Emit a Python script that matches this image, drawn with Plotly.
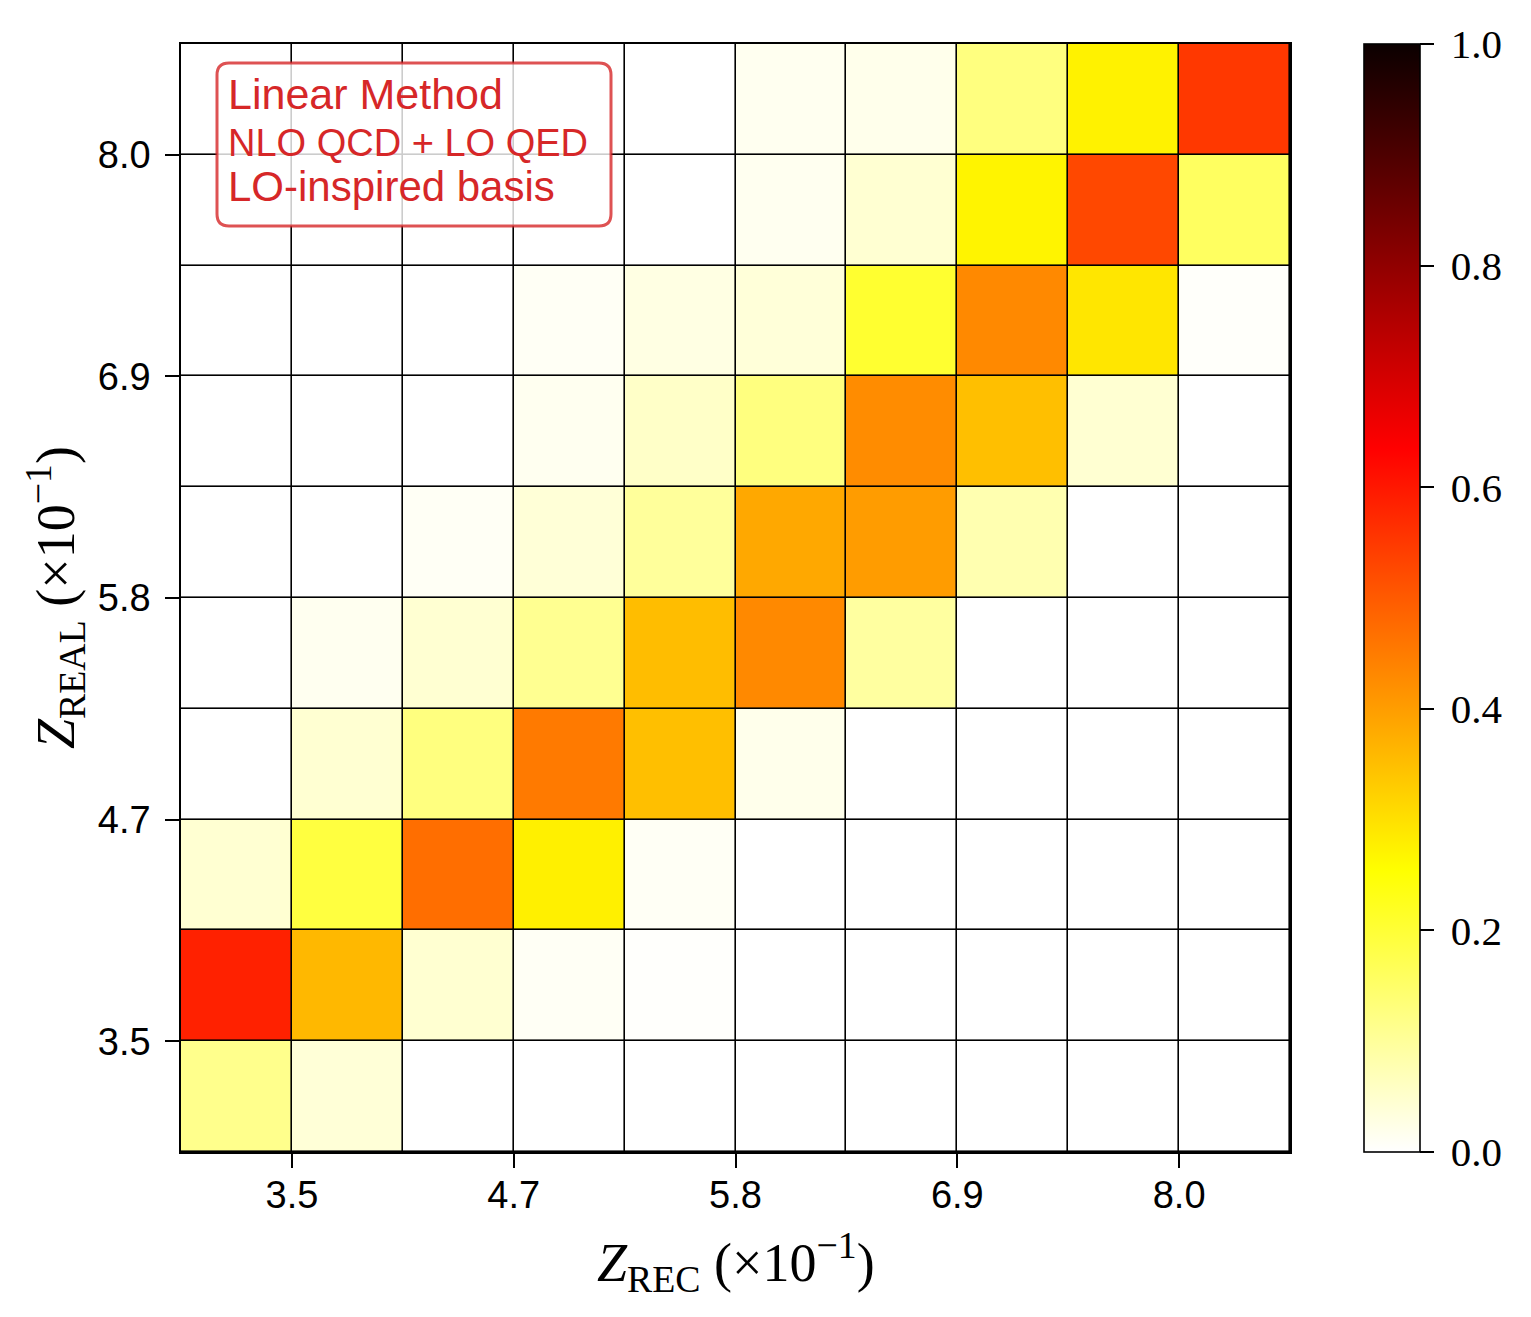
import plotly.graph_objects as go

# bin index along each axis (10 bins), rows listed bottom -> top
bins = list(range(10))
tick_pos = [0.5, 2.5, 4.5, 6.5, 8.5]
tick_text = ["3.5", "4.7", "5.8", "6.9", "8.0"]

row0 = [0.115, 0.040, 0.000, 0.000, 0.000, 0.000, 0.000, 0.000, 0.000, 0.000]
row1 = [0.585, 0.360, 0.046, 0.010, 0.003, 0.000, 0.000, 0.000, 0.000, 0.000]
row2 = [0.045, 0.190, 0.471, 0.277, 0.010, 0.000, 0.000, 0.000, 0.000, 0.000]
row3 = [0.000, 0.045, 0.127, 0.452, 0.349, 0.020, 0.000, 0.000, 0.000, 0.000]
row4 = [0.000, 0.015, 0.045, 0.110, 0.352, 0.430, 0.095, 0.000, 0.000, 0.000]
row5 = [0.000, 0.000, 0.010, 0.040, 0.100, 0.384, 0.402, 0.079, 0.000, 0.000]
row6 = [0.000, 0.000, 0.000, 0.015, 0.055, 0.127, 0.426, 0.349, 0.045, 0.000]
row7 = [0.000, 0.000, 0.000, 0.010, 0.028, 0.038, 0.206, 0.430, 0.292, 0.005]
row8 = [0.000, 0.000, 0.000, 0.000, 0.000, 0.015, 0.045, 0.270, 0.528, 0.158]
row9 = [0.000, 0.000, 0.000, 0.000, 0.000, 0.015, 0.020, 0.127, 0.273, 0.551]
z = [row0, row1, row2, row3, row4, row5, row6, row7, row8, row9]

cbar_ticks = [0.0, 0.2, 0.4, 0.6, 0.8, 1.0]
legend_lines = ["Linear Method", "NLO QCD + LO QED", "LO-inspired basis"]

# matplotlib "hot_r"
hot_r = [
    [0.0, "rgb(255,255,255)"],
    [0.253968, "rgb(255,255,0)"],
    [0.634921, "rgb(255,0,0)"],
    [1.0, "rgb(11,0,0)"],
]

# page body has an 8px margin, so lay out in page pixels minus that
OFF = 8
W, H = 1531 - OFF, 1317 - OFF
L, T = 181 - OFF, 44 - OFF
pw, ph = 1109, 1108
R, B = W - L - pw, H - T - ph

def px(x):
    return (x - OFF - L) / pw

def py(y):
    return (T + ph - (y - OFF)) / ph

red = "#d62728"
sans = "Liberation Sans"
serif = "Liberation Serif"

fig = go.Figure(go.Heatmap(
    x=bins, y=bins, z=z,
    colorscale=hot_r, zmin=0, zmax=1,
    xgap=1.6, ygap=1.6,
    colorbar=dict(
        x=px(1364), xanchor="left", xpad=0, ypad=0,
        y=0.5, yanchor="middle", len=1, lenmode="fraction",
        thickness=56, thicknessmode="pixels",
        outlinecolor="black", outlinewidth=1.6,
        ticks="outside", ticklen=14, tickwidth=1.6, tickcolor="black",
        tickvals=cbar_ticks, ticktext=[f"\u2009{v:.1f}" for v in cbar_ticks],
        tickfont=dict(family=serif, size=41, color="black"),
    ),
))

# rounded legend-like box
x0, x1, y0, y1, r = px(217), px(611), py(226), py(63), 12
rx, ry = r / pw, r / ph
path = (f"M {x0+rx},{y0} L {x1-rx},{y0} Q {x1},{y0} {x1},{y0+ry} "
        f"L {x1},{y1-ry} Q {x1},{y1} {x1-rx},{y1} L {x0+rx},{y1} "
        f"Q {x0},{y1} {x0},{y1-ry} L {x0},{y0+ry} Q {x0},{y0} {x0+rx},{y0} Z")
fig.add_shape(type="path", path=path, xref="paper", yref="paper",
              fillcolor="rgba(255,255,255,0.8)",
              line=dict(color="rgba(214,39,40,0.8)", width=3), layer="above")

for txt, yy, sz in zip(legend_lines, [94, 143, 187], [43, 38, 42]):
    fig.add_annotation(text=txt, x=px(226), y=py(yy), xref="paper", yref="paper",
                       xanchor="left", yanchor="middle", showarrow=False,
                       font=dict(family=sans, size=sz, color=red))

fig.add_annotation(text="<i>Z</i><sub>REC</sub> (×10<sup>−1</sup>)",
                   x=0.5, y=py(1262), xref="paper", yref="paper",
                   xanchor="center", yanchor="middle", showarrow=False,
                   font=dict(family=serif, size=54, color="black"))
fig.add_annotation(text="<i>Z</i><sub>REAL</sub> (×10<sup>−1</sup>)",
                   x=px(55), y=0.5, xref="paper", yref="paper", textangle=-90,
                   xanchor="center", yanchor="middle", showarrow=False,
                   font=dict(family=serif, size=54, color="black"))

axis_style = dict(
    tickvals=tick_pos, ticktext=tick_text,
    ticks="outside", ticklen=14, tickwidth=1.6, tickcolor="black",
    showline=True, linecolor="black", linewidth=1.6, mirror=True,
    showgrid=False, zeroline=False, range=[-0.5, 9.5],
    tickfont=dict(family=sans, size=38, color="black"),
)
fig.update_xaxes(**axis_style, ticklabelstandoff=-5)
fig.update_yaxes(**axis_style, ticklabelstandoff=7)

fig.update_layout(
    width=W, height=H,
    margin=dict(l=L, r=R, t=T, b=B),
    plot_bgcolor="black", paper_bgcolor="white",
)

fig.write_html("out.html")
